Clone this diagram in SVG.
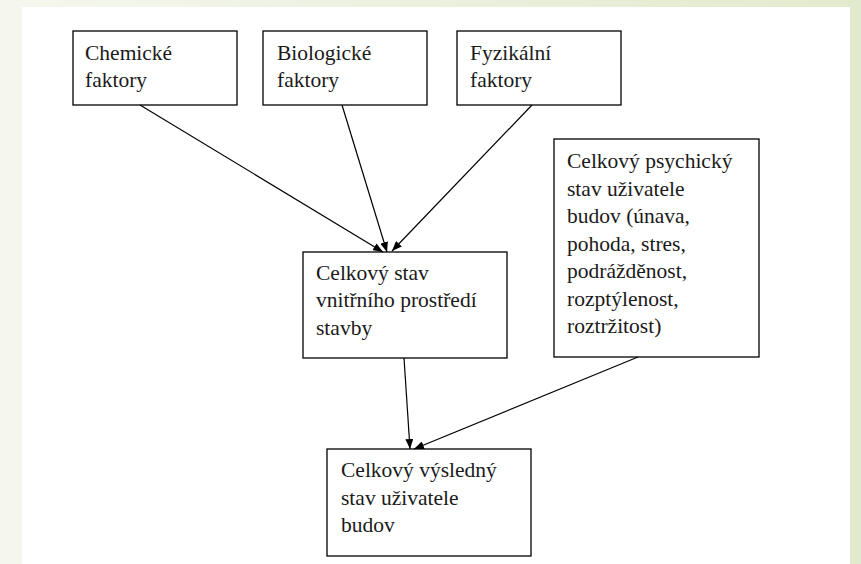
<svg xmlns="http://www.w3.org/2000/svg" width="861" height="564" viewBox="0 0 861 564">
<defs>
<linearGradient id="bg" x1="0" y1="0" x2="1" y2="0">
<stop offset="0" stop-color="#f5f7ee"/>
<stop offset="1" stop-color="#e2eacd"/>
</linearGradient>
<marker id="ah" viewBox="0 0 10 8" refX="10" refY="4" markerWidth="10" markerHeight="8" markerUnits="userSpaceOnUse" orient="auto">
<path d="M0,0 L10,4 L0,8 Z" fill="#000"/>
</marker>
</defs>
<style>
.box{fill:#fff;stroke:#000;stroke-width:1.3}
.t{font-family:'Liberation Serif','Times New Roman','DejaVu Serif',serif;font-size:21.5px;fill:#1a1a1a}
.c{stroke:#000;stroke-width:1.2;fill:none;marker-end:url(#ah)}
</style>
<rect x="0" y="0" width="861" height="564" fill="url(#bg)"/>
<rect x="22" y="7" width="828" height="557" fill="#fff"/>
<g id="chem">
<rect class="box" x="73" y="31" width="164" height="74"/>
<text class="t" x="85" y="60">Chemické</text>
<text class="t" x="85" y="87">faktory</text>
</g>
<g id="bio">
<rect class="box" x="263" y="31" width="164" height="74"/>
<text class="t" x="277" y="60">Biologické</text>
<text class="t" x="277" y="87">faktory</text>
</g>
<g id="fyz">
<rect class="box" x="457" y="31" width="164" height="74"/>
<text class="t" x="470" y="60">Fyzikální</text>
<text class="t" x="470" y="87">faktory</text>
</g>
<g id="vnitrni">
<rect class="box" x="303" y="252" width="204" height="106"/>
<text class="t" x="316" y="280">Celkový stav</text>
<text class="t" x="316" y="307">vnitřního prostředí</text>
<text class="t" x="316" y="335">stavby</text>
</g>
<g id="psych">
<rect class="box" x="554" y="139" width="205" height="218"/>
<text class="t" x="567" y="168">Celkový psychický</text>
<text class="t" x="567" y="196">stav uživatele</text>
<text class="t" x="567" y="223">budov (únava,</text>
<text class="t" x="567" y="251">pohoda, stres,</text>
<text class="t" x="567" y="278">podrážděnost,</text>
<text class="t" x="567" y="306">rozptýlenost,</text>
<text class="t" x="567" y="333">roztržitost)</text>
</g>
<g id="vysledny">
<rect class="box" x="327" y="449" width="204" height="107"/>
<text class="t" x="341" y="477">Celkový výsledný</text>
<text class="t" x="341" y="505">stav uživatele</text>
<text class="t" x="341" y="532">budov</text>
</g>
<g id="connectors">
<line class="c" x1="140" y1="105" x2="383" y2="252"/>
<line class="c" x1="342" y1="105" x2="387" y2="252"/>
<line class="c" x1="532" y1="105" x2="392" y2="251"/>
<line class="c" x1="404" y1="358" x2="410" y2="449"/>
<line class="c" x1="638" y1="357" x2="414" y2="449"/>
</g>
</svg>
